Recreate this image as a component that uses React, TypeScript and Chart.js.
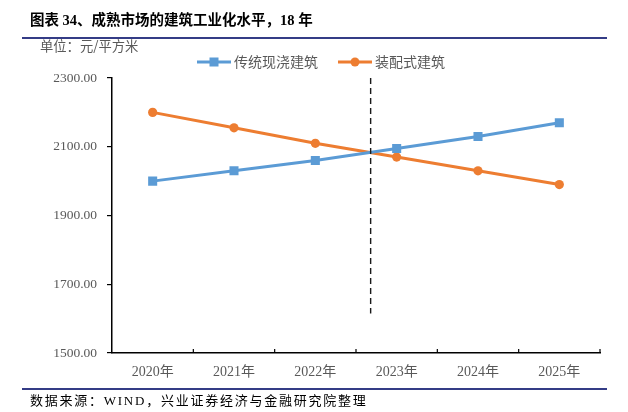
import React, { useEffect, useRef } from "react";
import { Chart, registerables } from "chart.js";

Chart.register(...registerables);

const TITLE = "图表 34、成熟市场的建筑工业化水平，18 年";
const UNIT = "单位：元/平方米";
const SOURCE = "数据来源：WIND，兴业证券经济与金融研究院整理";

const categories = ["2020年", "2021年", "2022年", "2023年", "2024年", "2025年"];
const seriesNames = ["传统现浇建筑", "装配式建筑"];
const traditionalValues = [2000, 2030, 2060, 2095, 2130, 2170];
const prefabValues = [2200, 2155, 2110, 2070, 2030, 1990];
const yMin = 1500;
const yMax = 2300;
const yStep = 200;
// dashed divider position (category index, fractional) and its value span
const dividerIndex = 2.68;
const dividerTop = 2300;
const dividerBottom = 1615;

const BLUE = "#5B9BD5";
const ORANGE = "#ED7D31";
const GRAY = "#595959";
const NAVY = "#343C86";
const SANS = '"Noto Sans CJK SC", "Noto Sans", sans-serif';
const SERIF = '"Liberation Serif", "Noto Sans CJK SC", serif';

const dividerPlugin = {
  id: "divider",
  afterDatasetsDraw(chart: any) {
    const { ctx, scales } = chart;
    const x = scales.x.getPixelForValue(dividerIndex);
    const y1 = scales.y.getPixelForValue(dividerTop);
    const y2 = scales.y.getPixelForValue(dividerBottom);
    ctx.save();
    ctx.strokeStyle = "#1a1a1a";
    ctx.lineWidth = 1.4;
    ctx.setLineDash([6, 4]);
    ctx.beginPath();
    ctx.moveTo(x, y1);
    ctx.lineTo(x, y2);
    ctx.stroke();
    ctx.restore();
  },
};

const innerTicksPlugin = {
  id: "innerTicks",
  afterDraw(chart: any) {
    const { ctx, scales } = chart;
    const xs = scales.x;
    const n = categories.length;
    ctx.save();
    ctx.strokeStyle = "#000";
    ctx.lineWidth = 1.2;
    for (let i = 1; i <= n; i++) {
      const x = xs.left + (i * (xs.right - xs.left)) / n;
      ctx.beginPath();
      ctx.moveTo(x, xs.top);
      ctx.lineTo(x, xs.top - 4);
      ctx.stroke();
    }
    ctx.restore();
  },
};

const legendPlugin = {
  id: "lineLegend",
  afterDraw(chart: any) {
    const { ctx } = chart;
    const startX = 197;
    const y = 62;
    const lineLen = 34;
    const textGap = 3;
    const itemGap = 20;
    ctx.save();
    ctx.font = `14px ${SANS}`;
    ctx.textBaseline = "middle";
    let x = startX;
    chart.data.datasets.forEach((ds: any) => {
      ctx.strokeStyle = ds.borderColor;
      ctx.lineWidth = 3;
      ctx.beginPath();
      ctx.moveTo(x, y);
      ctx.lineTo(x + lineLen, y);
      ctx.stroke();
      ctx.fillStyle = ds.borderColor;
      const cx = x + lineLen / 2;
      if (ds.pointStyle === "rect") {
        ctx.fillRect(cx - 4.5, y - 4.5, 9, 9);
      } else {
        ctx.beginPath();
        ctx.arc(cx, y, 4.5, 0, Math.PI * 2);
        ctx.fill();
      }
      ctx.fillStyle = GRAY;
      const tx = x + lineLen + textGap;
      ctx.fillText(ds.label, tx, y);
      x = tx + ctx.measureText(ds.label).width + itemGap;
    });
    ctx.restore();
  },
};

export default function App() {
  const canvasRef = useRef<HTMLCanvasElement | null>(null);

  useEffect(() => {
    if (!canvasRef.current) return;
    const chart = new Chart(canvasRef.current, {
      type: "line",
      data: {
        labels: categories,
        datasets: [
          {
            label: seriesNames[0],
            data: traditionalValues,
            borderColor: BLUE,
            backgroundColor: BLUE,
            borderWidth: 3,
            pointStyle: "rect",
            pointRadius: 6.4,
            pointBorderWidth: 0,
            pointBackgroundColor: BLUE,
            tension: 0,
          },
          {
            label: seriesNames[1],
            data: prefabValues,
            borderColor: ORANGE,
            backgroundColor: ORANGE,
            borderWidth: 3,
            pointStyle: "circle",
            pointRadius: 4.6,
            pointBorderWidth: 0,
            pointBackgroundColor: ORANGE,
            tension: 0,
          },
        ],
      },
      options: {
        responsive: false,
        animation: false,
        layout: { padding: { left: 0, right: 28, top: 78, bottom: 0 } },
        plugins: {
          legend: { display: false },
          tooltip: { enabled: false },
        },
        scales: {
          x: {
            type: "category",
            offset: true,
            grid: { display: false, drawTicks: false },
            border: { display: true, color: "#000", width: 1.5 },
            ticks: {
              color: GRAY,
              font: { family: SERIF, size: 14 },
              padding: 11,
              maxRotation: 0,
            },
            afterFit(scale: any) {
              scale.height = 59;
            },
          },
          y: {
            min: yMin,
            max: yMax,
            grid: {
              drawOnChartArea: false,
              drawTicks: true,
              tickLength: 5,
              color: "#000",
              lineWidth: 1.2,
            },
            border: { display: true, color: "#000", width: 1.5 },
            ticks: {
              stepSize: yStep,
              color: GRAY,
              font: { family: SERIF, size: 13.5 },
              padding: 10,
              callback: (v: any) => Number(v).toFixed(2),
            },
            afterFit(scale: any) {
              scale.width = 112;
            },
          },
        },
      },
      plugins: [dividerPlugin, innerTicksPlugin, legendPlugin],
    } as any);
    return () => chart.destroy();
  }, []);

  return (
    <div
      style={{
        position: "fixed",
        left: 0,
        top: 0,
        width: 628,
        height: 412,
        background: "#fff",
        overflow: "hidden",
      }}
    >
      <canvas
        ref={canvasRef}
        width={628}
        height={412}
        style={{ position: "absolute", left: 0, top: 0, width: 628, height: 412 }}
      />
      <div
        style={{
          position: "absolute",
          left: 30,
          top: 11,
          fontSize: 14.5,
          lineHeight: "18px",
          fontWeight: 700,
          fontFamily: SERIF,
          color: "#000",
          whiteSpace: "nowrap",
        }}
      >
        {TITLE}
      </div>
      <div
        style={{
          position: "absolute",
          left: 22,
          top: 37,
          width: 585,
          height: 2,
          background: NAVY,
        }}
      />
      <div
        style={{
          position: "absolute",
          left: 40,
          top: 37,
          fontSize: 13.3,
          lineHeight: "18px",
          fontFamily: SANS,
          color: GRAY,
          whiteSpace: "nowrap",
        }}
      >
        {UNIT}
      </div>
      <div
        style={{
          position: "absolute",
          left: 22,
          top: 388,
          width: 585,
          height: 1.5,
          background: NAVY,
        }}
      />
      <div
        style={{
          position: "absolute",
          left: 30,
          top: 393,
          fontSize: 13,
          lineHeight: "16px",
          fontFamily: SERIF,
          letterSpacing: 1.75,
          color: "#000",
          whiteSpace: "nowrap",
        }}
      >
        {SOURCE}
      </div>
    </div>
  );
}
